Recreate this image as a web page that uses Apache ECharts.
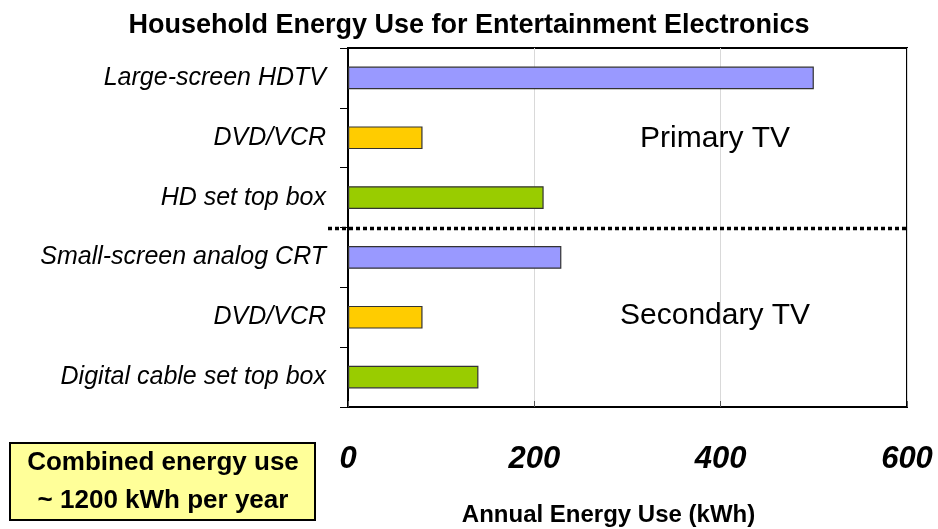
<!DOCTYPE html>
<html>
<head>
<meta charset="utf-8">
<script src="https://cdn.jsdelivr.net/npm/echarts@6/dist/echarts.min.js"></script>
<style>
html, body { margin: 0; padding: 0; background: #fff; }
#chart { width: 938px; height: 529px; }
</style>
</head>
<body>
<div id="chart"></div>
<script>
// devices, listed top to bottom
var devices = ['Large-screen HDTV', 'DVD/VCR', 'HD set top box',
    'Small-screen analog CRT', 'DVD/VCR', 'Digital cable set top box'];
var energyUse = [500, 80, 210, 229, 80, 140];   // kWh per year
var deviceKind = ['tv', 'player', 'box', 'tv', 'player', 'box'];
var xTicks = [0, 200, 400, 600];
var groups = ['Primary TV', 'Secondary TV'];
var noteLines = ['Combined energy use', '~ 1200 kWh per year'];

var kindColor = { tv: '#9999ff', player: '#ffcc00', box: '#99cc00' };
var font = "'Liberation Sans', Arial, sans-serif";

var chart = echarts.init(document.getElementById('chart'));

var barData = energyUse.map(function (v, i) {
    return { value: v, itemStyle: { color: kindColor[deviceKind[i]] } };
});

var option = {
    animation: false,
    backgroundColor: '#fff',
    textStyle: { fontFamily: font },
    title: {
        text: 'Household Energy Use for Entertainment Electronics',
        left: 'center',
        top: 7,
        textStyle: { fontFamily: font, fontSize: 27, fontWeight: 'bold', color: '#000' }
    },
    grid: {
        left: 348, right: 31, top: 48, bottom: 122,
        outerBoundsMode: 'none',
        containLabel: false,
        show: true, borderColor: '#000', borderWidth: 2, backgroundColor: '#fff'
    },
    xAxis: {
        type: 'value',
        min: xTicks[0], max: xTicks[xTicks.length - 1], interval: 200,
        name: 'Annual Energy Use (kWh)',
        nameLocation: 'middle',
        nameGap: 96,
        nameTextStyle: { fontFamily: font, fontSize: 24, fontWeight: 'bold', color: '#000', padding: [0, 38, 0, 0] },
        axisLine: { show: true, lineStyle: { color: '#000', width: 2 } },
        axisTick: { show: true, inside: true, length: 6, lineStyle: { color: '#555' } },
        axisLabel: { fontFamily: font, fontSize: 31, fontWeight: 'bold', fontStyle: 'italic', color: '#000', margin: 37 },
        splitLine: { show: true, lineStyle: { color: '#d9d9d9', width: 1 } }
    },
    yAxis: {
        type: 'category',
        inverse: true,
        data: devices,
        axisLine: { show: true, lineStyle: { color: '#000', width: 2 } },
        axisTick: { show: true, length: 8, lineStyle: { color: '#000' } },
        axisLabel: { fontFamily: font, fontSize: 25, fontStyle: 'italic', color: '#000', margin: 22 },
        splitLine: { show: false }
    },
    series: [{
        type: 'bar',
        data: barData,
        barWidth: '38%',
        itemStyle: { borderColor: '#333', borderWidth: 1.2 }
    }]
};
chart.setOption(option);

// annotations placed through the axes
var y2 = chart.convertToPixel({ yAxisIndex: 0 }, 2);
var y3 = chart.convertToPixel({ yAxisIndex: 0 }, 3);
var ySplit = (y2 + y3) / 2 + 1;
var xLeft = chart.convertToPixel({ xAxisIndex: 0 }, 0);
var xRight = chart.convertToPixel({ xAxisIndex: 0 }, 600);
var xLabel = chart.convertToPixel({ xAxisIndex: 0 }, 394);

chart.setOption({
    graphic: [
        {
            type: 'line', z: 100,
            shape: { x1: xLeft - 20, y1: ySplit, x2: xRight, y2: ySplit },
            style: { stroke: '#000', lineWidth: 3.5, lineDash: [4, 3] }
        },
        {
            type: 'text', z: 100,
            x: xLabel, y: chart.convertToPixel({ yAxisIndex: 0 }, 1) + 1,
            style: { text: groups[0], font: '30px ' + font, fill: '#000', align: 'center', verticalAlign: 'middle' }
        },
        {
            type: 'text', z: 100,
            x: xLabel, y: chart.convertToPixel({ yAxisIndex: 0 }, 4) - 2,
            style: { text: groups[1], font: '30px ' + font, fill: '#000', align: 'center', verticalAlign: 'middle' }
        },
        {
            type: 'rect', z: 100,
            shape: { x: 10, y: 443, width: 305, height: 77 },
            style: { fill: '#ffff99', stroke: '#000', lineWidth: 2 }
        },
        {
            type: 'text', z: 101,
            x: 163, y: 482,
            style: {
                text: noteLines.join('\n'), font: 'bold 26px ' + font, fill: '#000',
                align: 'center', verticalAlign: 'middle', lineHeight: 38
            }
        }
    ]
});
</script>
</body>
</html>
